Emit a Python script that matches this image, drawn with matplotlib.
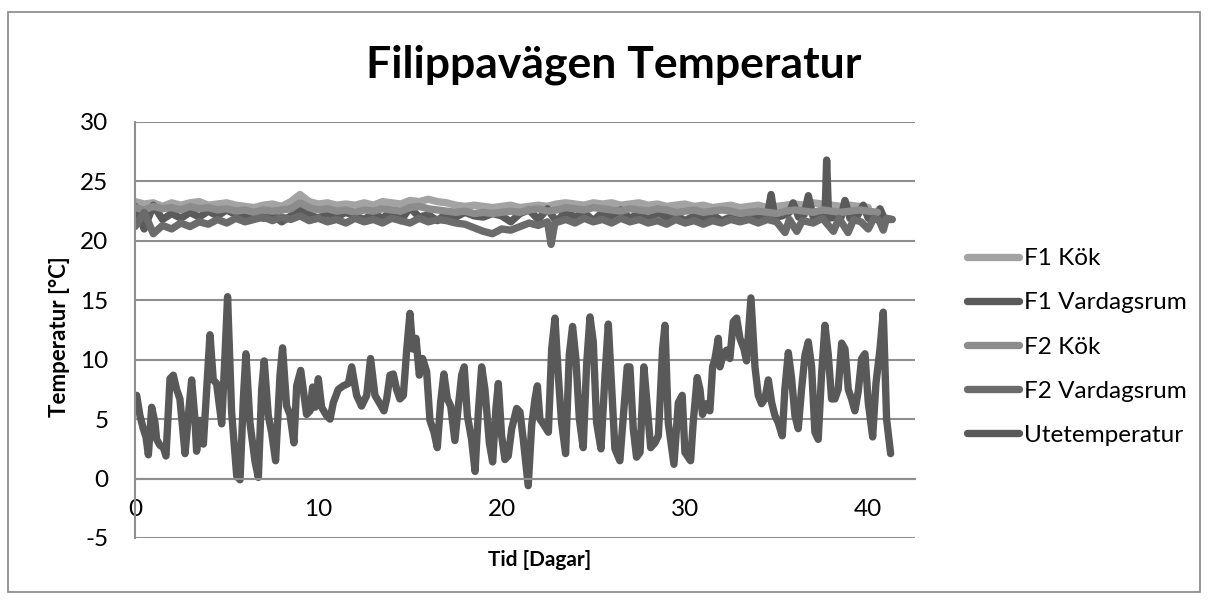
import numpy as np
import matplotlib
matplotlib.use("Agg")
import matplotlib.pyplot as plt
from matplotlib.patches import Rectangle

plt.rcParams['font.family'] = ['Lato', 'DejaVu Sans']
plt.rcParams['axes.unicode_minus'] = False

# --- data ---
# kök series sampled every half day
f1_kok = [23.3, 23.1, 23.2, 22.9, 23.2, 23.0, 23.2, 23.3, 23.0, 23.1,
          23.2, 23.0, 22.9, 22.8, 23.0, 23.1, 22.9, 23.3, 23.9, 23.3,
          23.1, 23.2, 23.0, 23.1, 23.0, 23.2, 23.0, 23.3, 23.2, 23.1,
          23.4, 23.3, 23.5, 23.3, 23.2, 23.0, 22.9, 23.0, 22.9, 22.8,
          22.9, 23.0, 22.8, 22.9, 23.0, 22.9, 23.1, 23.2, 23.1, 23.0,
          23.2, 23.1, 23.2, 23.0, 23.1, 23.2, 23.0, 23.1, 22.9, 23.0,
          23.1, 22.9, 23.0, 22.8, 22.9, 23.0, 22.8, 22.9, 23.0, 22.8,
          22.9, 23.0, 23.1, 23.0, 23.2, 23.1, 23.0, 22.9, 23.0, 22.9,
          22.8]
f2_kok = [22.8, 22.6, 22.9, 22.7, 22.8, 22.6, 22.9, 22.7, 22.8, 22.6,
          22.7, 22.5, 22.6, 22.4, 22.6, 22.5, 22.6, 22.7, 23.2, 22.8,
          22.6, 22.7, 22.5, 22.6, 22.4, 22.6, 22.5, 22.7, 22.6, 22.5,
          22.8, 22.9, 22.7, 22.6, 22.5, 22.4, 22.5, 22.3, 22.4, 22.3,
          22.4, 22.5, 22.4, 22.6, 22.7, 22.5, 22.6, 22.8, 22.7, 22.6,
          22.8, 22.7, 22.6, 22.5, 22.7, 22.6, 22.5, 22.7, 22.6, 22.4,
          22.5, 22.6, 22.4, 22.5, 22.6, 22.5, 22.3, 22.4, 22.5, 22.4,
          22.3, 22.5, 22.6, 22.5, 22.4, 22.6, 22.5, 22.4, 22.5, 22.6,
          22.5, 22.4]

f1_vard_dag = [0, 0.5, 1, 1.5, 2, 2.5, 3, 3.5, 4, 4.5, 5, 5.5, 6, 6.5, 7, 7.5,
               8, 8.5, 9, 9.5, 10, 10.5, 11, 11.5, 12, 12.5, 13, 13.5, 14, 14.5,
               15, 15.5, 16, 16.5, 17, 17.5, 18, 18.5, 19, 19.5, 20, 20.5, 21,
               21.5, 22, 22.5, 23, 23.5, 24, 24.5, 25, 25.5, 26, 26.5, 27, 27.5,
               28, 28.5, 29, 29.5, 30, 30.5, 31, 31.5, 32, 32.5, 33, 33.5, 34,
               34.5, 34.7, 34.9, 35.3, 35.7, 35.9, 36.2, 36.5, 36.73, 37.0, 37.4,
               37.64, 37.73, 37.84, 38.2, 38.5, 38.73, 39.0, 39.4, 39.73, 40.0,
               40.4, 40.64, 40.9, 41.3]
f1_vard = [22.9, 21.0, 23.0, 21.8, 22.3, 21.9, 22.4, 22.0, 22.5, 22.1, 22.6,
           22.2, 22.0, 22.3, 21.9, 22.2, 21.6, 22.1, 22.6, 22.2, 21.9, 22.3,
           22.0, 22.4, 22.1, 21.8, 22.3, 21.9, 22.5, 21.7, 22.8, 22.0, 22.2,
           21.7, 22.3, 22.0, 22.4, 22.1, 22.0, 22.3, 22.1, 21.6, 22.3, 22.6,
           21.8, 22.7, 21.6, 22.5, 22.0, 22.4, 21.7, 22.4, 22.0, 22.6, 21.9,
           22.3, 21.8, 22.4, 22.0, 22.2, 21.7, 22.1, 21.8, 22.2, 21.7, 22.0,
           21.8, 22.0, 21.9, 22.2, 23.9, 22.0, 22.1, 22.4, 23.2, 22.0, 22.2,
           23.8, 22.0, 22.2, 21.9, 26.8, 21.9, 22.0, 21.9, 23.4, 21.9, 22.1,
           23.0, 21.9, 22.1, 22.7, 21.8, 21.8]

f2_vard_dag = [0, 0.5, 1, 1.5, 2, 2.5, 3, 3.5, 4, 4.5, 5, 5.5, 6, 6.5, 7, 7.5,
               8, 8.5, 9, 9.5, 10, 10.5, 11, 11.5, 12, 12.5, 13, 13.5, 14, 14.5,
               15, 15.5, 16, 16.5, 17, 17.5, 18, 18.5, 19, 19.5, 20, 20.5, 21,
               21.5, 22, 22.5, 22.7, 22.9, 23.5, 24, 24.5, 25, 25.5, 26, 26.5,
               27, 27.5, 28, 28.5, 29, 29.5, 30, 30.5, 31, 31.5, 32, 32.5, 33,
               33.5, 34, 34.5, 35, 35.46, 35.7, 36.1, 36.4, 37, 37.5, 38.1, 38.4,
               38.9, 39.2, 39.6, 40.0, 40.3, 40.6, 40.82, 41.0, 41.3]
f2_vard = [21.2, 22.4, 20.6, 21.3, 21.0, 21.5, 21.2, 21.6, 21.4, 21.8, 21.5,
           21.9, 21.6, 21.8, 22.0, 21.7, 22.0, 21.8, 22.1, 21.7, 21.9, 21.6,
           21.8, 21.5, 21.9, 21.6, 21.8, 21.5, 21.9, 21.7, 21.5, 21.9, 21.6,
           21.8, 21.7, 21.5, 21.4, 21.1, 20.8, 20.6, 21.0, 20.9, 21.2, 21.5,
           21.3, 21.6, 19.7, 21.5, 21.8, 21.5, 21.9, 21.6, 21.8, 21.5, 21.9,
           21.6, 21.8, 21.5, 21.7, 21.4, 21.8, 21.5, 21.7, 21.4, 21.7, 21.5,
           21.8, 21.6, 21.8, 21.5, 21.8, 21.6, 20.7, 21.8, 20.8, 21.7, 21.5,
           21.9, 20.8, 21.9, 20.7, 21.8, 21.6, 21.0, 21.9, 21.7, 20.9, 21.9,
           21.8]

ute_dag = [0.09, 0.27, 0.45, 0.60, 0.73, 0.91, 1.09, 1.18, 1.36, 1.55, 1.69,
           1.91, 2.09, 2.27, 2.45, 2.73, 2.91, 3.09, 3.27, 3.36, 3.55, 3.73,
           3.91, 4.09, 4.27, 4.45, 4.73, 4.91, 5.05, 5.27, 5.55, 5.73, 5.91,
           6.05, 6.27, 6.55, 6.73, 6.91, 7.05, 7.27, 7.45, 7.67, 7.91, 8.05,
           8.27, 8.45, 8.67, 8.82, 9.04, 9.18, 9.36, 9.55, 9.69, 9.82, 10.0,
           10.18, 10.45, 10.64, 10.82, 11.09, 11.36, 11.64, 11.82, 12.09,
           12.36, 12.64, 12.85, 13.09, 13.36, 13.58, 13.73, 13.91, 14.09,
           14.27, 14.45, 14.64, 14.82, 15.0, 15.15, 15.33, 15.51, 15.69,
           15.91, 16.09, 16.31, 16.49, 16.67, 16.85, 17.04, 17.22, 17.45,
           17.64, 17.82, 17.96, 18.13, 18.36, 18.55, 18.73, 18.91, 19.09,
           19.33, 19.51, 19.69, 19.82, 20.0, 20.18, 20.36, 20.55, 20.82,
           21.0, 21.18, 21.45, 21.64, 21.82, 21.95, 22.09, 22.27, 22.55,
           22.73, 22.91, 23.09, 23.27, 23.49, 23.69, 23.87, 24.05, 24.24,
           24.45, 24.64, 24.82, 25.0, 25.18, 25.42, 25.64, 25.82, 26.0,
           26.18, 26.45, 26.64, 26.85, 27.0, 27.18, 27.36, 27.55, 27.76,
           27.91, 28.13, 28.36, 28.55, 28.78, 28.91, 29.09, 29.4, 29.64,
           29.85, 30.0, 30.31, 30.45, 30.67, 30.82, 30.96, 31.18, 31.36,
           31.51, 31.64, 31.82, 31.91, 32.09, 32.27, 32.45, 32.64, 32.82,
           33.0, 33.22, 33.36, 33.6, 33.82, 34.0, 34.18, 34.36, 34.55, 34.73,
           34.91, 35.09, 35.31, 35.45, 35.64, 35.82, 36.0, 36.18, 36.36,
           36.55, 36.73, 36.91, 37.09, 37.27, 37.45, 37.64, 37.82, 38.0,
           38.18, 38.36, 38.55, 38.73, 38.91, 39.09, 39.27, 39.45, 39.64,
           39.82, 40.0, 40.24, 40.42, 40.64, 40.82, 41.0, 41.22]
ute_temp = [7.0, 5.3, 4.2, 3.5, 2.0, 6.0, 4.7, 3.3, 2.8, 2.6, 1.9,
            8.4, 8.7, 7.5, 6.7, 2.1, 5.3, 8.3, 5.0, 2.3, 4.9, 2.9,
            7.5, 12.1, 8.3, 8.0, 4.6, 10.4, 15.3, 5.6, 0.2, -0.1, 6.7,
            10.5, 4.7, 1.4, 0.1, 7.5, 9.9, 5.3, 3.9, 1.5, 8.7, 11.0,
            6.1, 5.4, 3.0, 7.8, 9.1, 7.5, 5.4, 5.7, 7.7, 6.0, 8.4,
            6.0, 5.3, 5.0, 6.4, 7.5, 7.8, 8.0, 9.4, 7.0,
            6.1, 7.0, 10.1, 7.0, 6.3, 5.7, 6.7, 8.7, 8.8,
            7.5, 6.7, 7.0, 10.8, 13.9, 10.9, 11.8, 8.7, 10.1,
            9.0, 4.9, 3.9, 2.6, 6.4, 8.8, 6.7, 6.1, 3.2,
            6.1, 8.7, 9.4, 5.3, 3.3, 0.6, 5.6, 9.4, 7.5,
            3.0, 1.4, 5.9, 8.0, 3.6, 1.6, 1.9, 4.2, 5.9,
            5.6, 3.3, -0.6, 4.5, 6.7, 7.8, 5.0, 4.6, 3.9,
            10.9, 13.5, 8.7, 4.7, 2.1, 10.4, 12.8, 10.1, 5.0,
            2.6, 9.7, 13.6, 11.5, 4.7, 2.5, 8.7, 13.0, 7.8,
            2.5, 1.5, 5.3, 9.4, 9.4, 4.2, 1.8, 2.2, 9.4,
            6.7, 2.6, 3.0, 3.6, 10.9, 12.9, 4.7, 1.2, 6.4,
            7.0, 2.2, 1.5, 4.7, 8.5, 7.5, 5.4, 6.3, 5.7,
            9.4, 10.1, 11.8, 9.4, 10.4, 10.8, 10.1, 13.2, 13.5,
            11.8, 10.9, 9.9, 15.2, 9.4, 7.0, 6.3, 6.7, 8.3, 6.4,
            5.3, 4.7, 3.6, 7.5, 10.6, 8.4, 5.3, 4.2, 7.5,
            10.4, 11.5, 9.4, 3.9, 3.3, 8.7, 12.9, 10.4, 6.7,
            6.7, 7.5, 11.4, 10.9, 7.5, 6.7, 5.7, 7.3, 10.1,
            10.5, 6.4, 3.5, 8.0, 10.9, 14.0, 5.0, 2.1]

serie_namn = ['F1 Kök', 'F1 Vardagsrum', 'F2 Kök', 'F2 Vardagsrum', 'Utetemperatur']
serie_farg = ['#A3A3A3', '#5A5A5A', '#8C8C8C', '#6B6B6B', '#595959']

y_ticks = [-5, 0, 5, 10, 15, 20, 25, 30]
x_ticks = [0, 10, 20, 30, 40]

# half-day sampling grid for the kök series
f1_kok_dag = np.arange(len(f1_kok)) * 0.5
f2_kok_dag = np.arange(len(f2_kok)) * 0.5

serier = [(f1_kok_dag, f1_kok), (f1_vard_dag, f1_vard), (f2_kok_dag, f2_kok),
          (f2_vard_dag, f2_vard), (ute_dag, ute_temp)]

fig = plt.figure(figsize=(12.08, 6.0), dpi=100)
ax = fig.add_axes([135 / 1208, 62 / 600, 780 / 1208, 416 / 600])

for (x, y), namn, farg in zip(serier, serie_namn, serie_farg):
    ax.plot(x, y, color=farg, lw=5.3, label=namn,
            solid_joinstyle='round', solid_capstyle='round')

ax.set_xlim(0, 42.55)
ax.set_ylim(-5, 30)
ax.set_yticks(y_ticks)
ax.set_xticks(x_ticks)
ax.grid(axis='y', color='#8E8E8E', lw=1.5)
ax.set_axisbelow(True)

for s in ['top', 'right']:
    ax.spines[s].set_visible(False)
ax.spines['left'].set_color('#8E8E8E')
ax.spines['left'].set_linewidth(1.5)
ax.spines['bottom'].set_position(('data', 0))
ax.spines['bottom'].set_color('#8E8E8E')
ax.spines['bottom'].set_linewidth(1.5)
ax.tick_params(length=0, labelsize=17.5, colors='black')
ax.tick_params(axis='y', pad=19)
ax.tick_params(axis='x', pad=15)

fig.text(614 / 1208, 1 - 65 / 600, 'Filippavägen Temperatur', ha='center', va='center',
         fontsize=32, fontweight='bold')
fig.text(60 / 1208, 1 - 337 / 600, 'Temperatur [°C]', ha='center', va='center',
         rotation=90, fontsize=16, fontweight='bold')
fig.text(540 / 1208, 1 - 560 / 600, 'Tid [Dagar]', ha='center', va='center',
         fontsize=15, fontweight='bold')

fig.legend(loc='center left', bbox_to_anchor=(967 / 1208, 1 - 347 / 600),
           frameon=False, fontsize=17.5, handlelength=2.15, handletextpad=0.2,
           labelspacing=0.95, borderpad=0, borderaxespad=0)

fig.patches.append(Rectangle((8 / 1208, 8 / 600), 1192 / 1208, 580 / 600,
                             transform=fig.transFigure, fill=False,
                             edgecolor='#868686', lw=1.2))

fig.savefig('out.png', dpi=100)
